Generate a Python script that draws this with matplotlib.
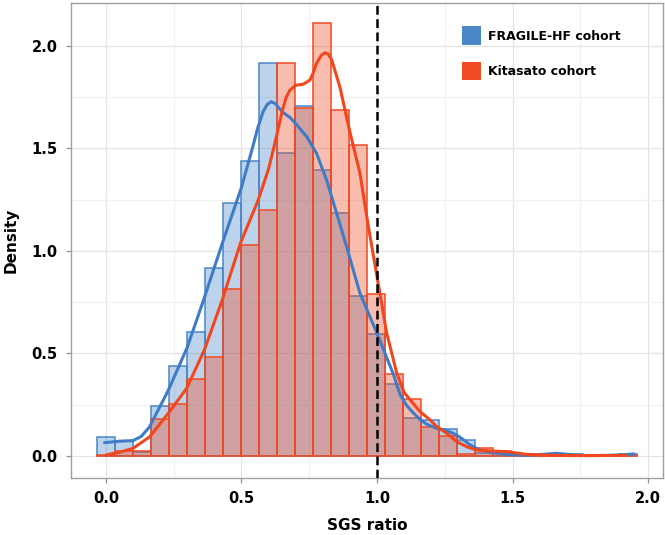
import matplotlib
matplotlib.use('Agg')
import matplotlib.pyplot as plt
import numpy as np
from matplotlib.patches import Patch
from matplotlib.ticker import MultipleLocator

# histogram bins (30 bins shared by both cohorts)
bin_start = -0.034
bin_width = 0.0664
n_bins = 30

fragile_density = [0.094, 0.073, 0.020, 0.244, 0.440, 0.603, 0.919, 1.233, 1.440, 1.919,
                   1.476, 1.709, 1.395, 1.187, 0.780, 0.595, 0.351, 0.184, 0.174, 0.130,
                   0.079, 0.016, 0.015, 0.010, 0.005, 0.005, 0.008, 0.005, 0.005, 0.012]
kitasato_density = [0.005, 0.023, 0.024, 0.180, 0.254, 0.376, 0.485, 0.813, 1.031, 1.200,
                    1.915, 1.699, 2.110, 1.686, 1.516, 0.790, 0.400, 0.278, 0.143, 0.098,
                    0.010, 0.037, 0.026, 0.010, 0.005, 0.005, 0.005, 0.003, 0.003, 0.005]

# KDE curves
fragile_kde_x = [-0.005, 0.05, 0.10, 0.13, 0.16, 0.23, 0.30, 0.36, 0.43, 0.50, 0.54, 0.56,
                 0.58, 0.595, 0.61, 0.625, 0.64, 0.654, 0.68, 0.704, 0.741, 0.777, 0.814,
                 0.851, 0.888, 0.937, 1.00, 1.06, 1.085, 1.11, 1.134, 1.159, 1.183, 1.22,
                 1.257, 1.294, 1.32, 1.343, 1.38, 1.43, 1.478, 1.55, 1.61, 1.663, 1.72, 1.76,
                 1.85, 1.90, 1.948]
fragile_kde_y = [0.065, 0.072, 0.075, 0.095, 0.14, 0.32, 0.53, 0.76, 1.04, 1.31, 1.50, 1.60,
                 1.68, 1.715, 1.728, 1.718, 1.695, 1.675, 1.65, 1.615, 1.557, 1.476, 1.346,
                 1.184, 1.02, 0.794, 0.598, 0.40, 0.30, 0.245, 0.21, 0.178, 0.155, 0.135,
                 0.125, 0.102, 0.078, 0.054, 0.029, 0.015, 0.008, 0.003, 0.008, 0.013,
                 0.006, 0.002, 0.003, 0.005, 0.010]

kitasato_kde_x = [0.0, 0.05, 0.10, 0.162, 0.23, 0.298, 0.363, 0.429, 0.496, 0.562, 0.60,
                  0.624, 0.65, 0.665, 0.679, 0.70, 0.728, 0.753, 0.765, 0.777, 0.795, 0.808,
                  0.82, 0.833, 0.863, 0.90, 0.937, 0.968, 1.00, 1.036, 1.073, 1.10, 1.134,
                  1.159, 1.196, 1.22, 1.257, 1.294, 1.331, 1.368, 1.42, 1.478, 1.55, 1.65,
                  1.72, 1.80, 1.92]
kitasato_kde_y = [0.005, 0.018, 0.037, 0.094, 0.208, 0.33, 0.517, 0.761, 1.037, 1.249, 1.40,
                  1.53, 1.68, 1.75, 1.785, 1.808, 1.813, 1.834, 1.87, 1.915, 1.955, 1.967,
                  1.96, 1.932, 1.80, 1.58, 1.38, 1.12, 0.875, 0.598, 0.403, 0.31, 0.255,
                  0.216, 0.176, 0.143, 0.111, 0.07, 0.045, 0.029, 0.024, 0.021, 0.008,
                  0.003, 0.002, 0.002, 0.003]

threshold = 1.0
labels = ['FRAGILE-HF cohort', 'Kitasato cohort']

blue = '#4a86c8'
red = '#f04a22'

fig = plt.figure(figsize=(6.65, 5.35), dpi=100)
ax = fig.add_axes([0.1063, 0.1071, 0.8911, 0.8879])

edges = bin_start + bin_width * np.arange(n_bins)
ax.bar(edges, fragile_density, width=bin_width, align='edge',
       facecolor=matplotlib.colors.to_rgba(blue, 0.36), edgecolor=blue, linewidth=1.1, zorder=2)
ax.bar(edges, kitasato_density, width=bin_width, align='edge',
       facecolor=matplotlib.colors.to_rgba(red, 0.36), edgecolor=red, linewidth=1.1, zorder=3)

ax.plot(fragile_kde_x, fragile_kde_y, color='#3f7cc6', linewidth=2.2, zorder=4,
        solid_capstyle='round', solid_joinstyle='round')
ax.plot(kitasato_kde_x, kitasato_kde_y, color='#f2471e', linewidth=2.2, zorder=5,
        solid_capstyle='round', solid_joinstyle='round')

ax.axvline(threshold, color='black', linestyle=(0, (3.5, 1.8)), linewidth=1.8, zorder=6)

ax.set_xlim(-0.130, 2.056)
ax.set_ylim(-0.106, 2.211)
ax.xaxis.set_major_locator(MultipleLocator(0.5))
ax.xaxis.set_minor_locator(MultipleLocator(0.25))
ax.yaxis.set_major_locator(MultipleLocator(0.5))
ax.yaxis.set_minor_locator(MultipleLocator(0.25))
ax.grid(which='major', color='#e4e4e4', linewidth=0.9, zorder=0)
ax.grid(which='minor', color='#f1f1f1', linewidth=0.9, zorder=0)
ax.set_axisbelow(True)

for s in ax.spines.values():
    s.set_color('#a0a0a0')
    s.set_linewidth(1.0)
ax.tick_params(which='major', length=3.5, width=0.9, color='#909090', pad=6, labelsize=10.5)
ax.tick_params(which='minor', length=0)
for lab in ax.get_xticklabels() + ax.get_yticklabels():
    lab.set_fontweight('bold')

ax.set_xlabel('SGS ratio', fontsize=11, fontweight='bold', labelpad=9)
ax.set_ylabel('Density', fontsize=11, fontweight='bold', labelpad=9)

handles = [Patch(facecolor=blue, edgecolor='none'), Patch(facecolor=red, edgecolor='none')]
leg = ax.legend(handles, labels, loc='upper right', bbox_to_anchor=(0.947, 0.974),
                frameon=False, handlelength=1.55, handleheight=1.9, labelspacing=1.35,
                handletextpad=0.55, prop={'size': 9, 'weight': 'bold'})

fig.savefig('out.png', dpi=100)
